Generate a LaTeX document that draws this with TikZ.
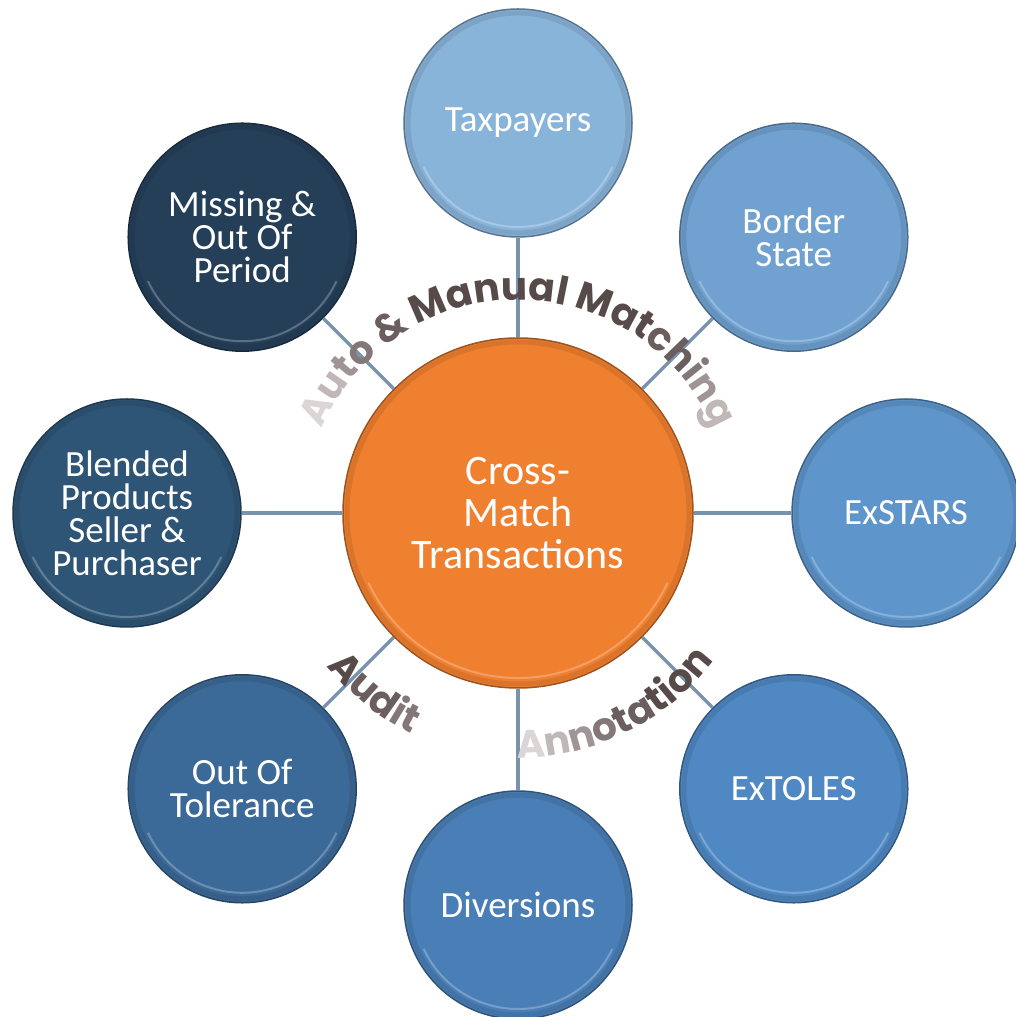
\documentclass[tikz,border=0pt]{standalone}
\usepackage{fontspec}
\setmainfont{Carlito}
\newfontfamily\arcfont{Poppins}
\usetikzlibrary{decorations.text,calc}
\definecolor{cTax}{HTML}{89B4DA}
\definecolor{cBor}{HTML}{70A1D0}
\definecolor{cExs}{HTML}{5E95CB}
\definecolor{cExt}{HTML}{4F88C3}
\definecolor{cDiv}{HTML}{4A7EB6}
\definecolor{cOut}{HTML}{3C6A98}
\definecolor{cBle}{HTML}{2E5576}
\definecolor{cMis}{HTML}{253F59}
\definecolor{cHub}{HTML}{EF8030}
\definecolor{linkc}{HTML}{7893AD}
\definecolor{ga}{HTML}{574B4A}
\definecolor{gb}{HTML}{6A5E5E}
\definecolor{gc}{HTML}{837777}
\definecolor{gd}{HTML}{A09595}
\definecolor{ge}{HTML}{C0B7B7}
\definecolor{gf}{HTML}{DCD5D5}
\newcommand\af{\arcfont\bfseries\fontsize{39}{39}\selectfont}
\begin{document}
\begin{tikzpicture}[x=1pt,y=1pt,
  rim/.style n args={3}{path picture={
      \draw[#1!75!black, line width=5pt, opacity=0.35] (path picture bounding box.center) circle (#2);
      \draw[white, line width=2pt, opacity=0.25] (path picture bounding box.center) ++(205:#3) arc[start angle=205, end angle=335, radius=#3];
    }},
  bubble/.style={circle, minimum size=228pt, inner sep=0pt, fill=#1,
    draw=#1!65!black, line width=1.5pt, text=white, align=center,
    font=\fontsize{37}{33}\selectfont, rim={#1}{110}{104}},
  hub/.style={circle, minimum size=350pt, inner sep=0pt, fill=#1,
    draw=#1!65!black, line width=1.5pt, text=white, align=center,
    font=\fontsize{42}{42}\selectfont, rim={#1}{171}{165}},
  link/.style={draw=linkc, line width=3.5pt},
  arctext/.style={decorate, decoration={text along path, text align=center, text={#1}}}
]
\useasboundingbox (0,0) rectangle (1015,1017);
\coordinate (C) at (518,504);
\node[hub=cHub] (hub) at (C) {Cross-\\Match\\Transactions};
\node[bubble=cTax] (tax) at ($(C)+(90:390)$) {Taxpayers};
\node[bubble=cBor] (bor) at ($(C)+(45:390)$) {Border\\State};
\node[bubble=cExs] (exs) at ($(C)+(0:388)$) {ExSTARS};
\node[bubble=cExt] (ext) at ($(C)+(-45:390)$) {ExTOLES};
\node[bubble=cDiv] (div) at ($(C)+(-90:392)$) {Diversions};
\node[bubble=cOut] (out) at ($(C)+(-135:390)$) {Out Of\\Tolerance};
\node[bubble=cBle] (ble) at ($(C)+(180:391)$) {Blended\\Products\\Seller \&\\Purchaser};
\node[bubble=cMis] (mis) at ($(C)+(135:390)$) {Missing \&\\Out Of\\Period};
\foreach \n in {tax,bor,exs,ext,div,out,ble,mis} \draw[link] (hub) -- (\n);
\path[arctext={|\af\color{gf}|A|\af\color{ge}|u|\af\color{gd}|t|\af\color{gc}|o |\af\color{gb}|{\&} |\af\color{ga}|Manual Mat|\af\color{gb}|ch|\af\color{gc}|i|\af\color{gd}|n|\af\color{ge}|g}]
  (C) ++(168:213) arc[start angle=168, end angle=12, radius=213];
\path[arctext={|\af\color{ga}|A|\af\color{gb}|ud|\af\color{gc}|it}]
  (C) ++(210:245) arc[start angle=210, end angle=253, radius=245];
\path[arctext={|\af\color{gf}|A|\af\color{ge}|n|\af\color{gd}|n|\af\color{gc}|o|\af\color{gb}|ta|\af\color{ga}|tion}]
  (C) ++(265:245) arc[start angle=265, end angle=328, radius=245];
\end{tikzpicture}
\end{document}
